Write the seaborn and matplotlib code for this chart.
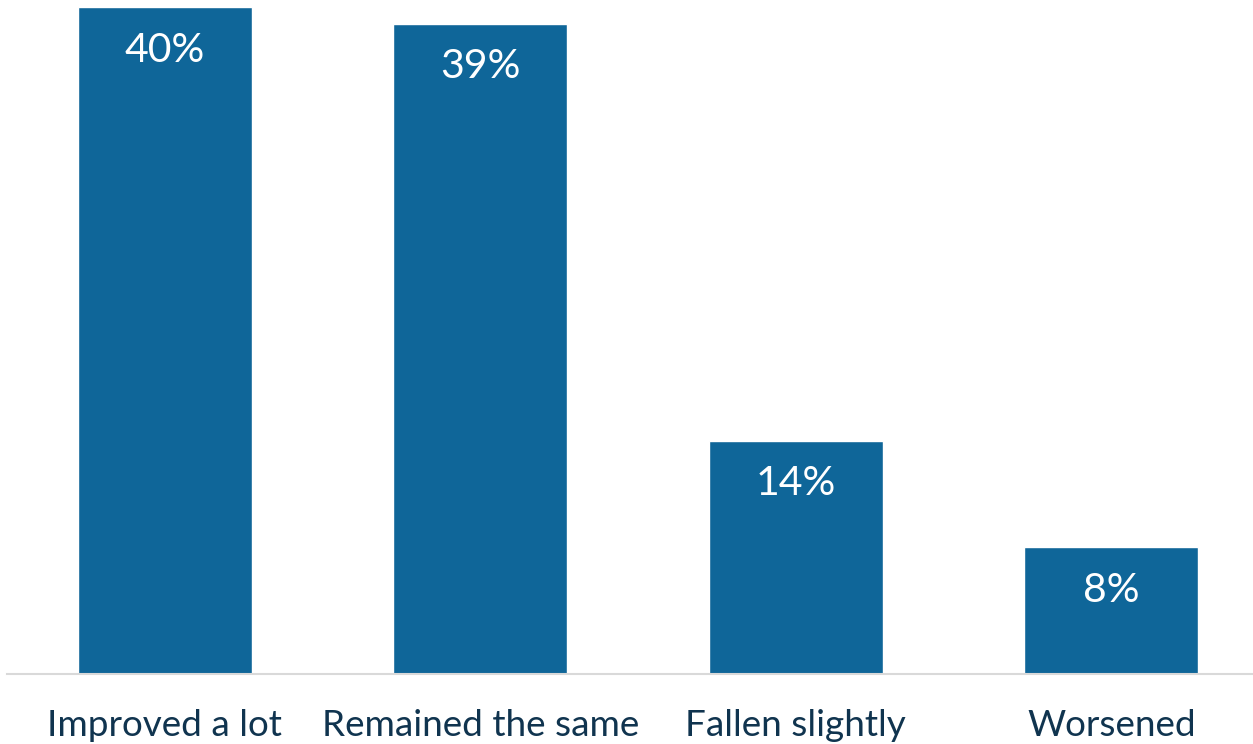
import matplotlib
matplotlib.use("Agg")
import matplotlib.pyplot as plt
import pandas as pd
import seaborn as sns

# values (percent)
categories = ["Improved a lot", "Remained the same", "Fallen slightly", "Worsened"]
shares = [40, 39, 14, 7.6]

BAR_COLOR = "#0f6699"
TEXT_COLOR = "#10344f"

sns.set_theme(style="white")
plt.rcParams["font.family"] = ["Lato", "DejaVu Sans"]

df = pd.DataFrame({"category": categories, "share": shares})

fig = plt.figure(figsize=(12.53, 7.44), dpi=100)
ax = fig.add_axes([7 / 1253, 70 / 744, 1246 / 1253, 674 / 744])

sns.barplot(data=df, x="category", y="share", color=BAR_COLOR, saturation=1,
            width=0.55, ax=ax)

ax.set_xlim(-0.5, -0.5 + 1246 / 315.5)
ax.set_ylim(0, 674 / 667 * 40)

for patch, v in zip(ax.patches, shares):
    x = patch.get_x() + patch.get_width() / 2
    ax.annotate("{:.0f}%".format(v), (x, patch.get_height()), xytext=(0, -43),
                textcoords="offset pixels", ha="center", va="center",
                color="white", fontsize=29.5)

ax.set_xlabel("")
ax.set_ylabel("")
ax.set_yticks([])
ax.tick_params(axis="x", length=0, pad=25.5, labelsize=26.6, labelcolor=TEXT_COLOR)
for side in ["top", "right", "left"]:
    ax.spines[side].set_visible(False)
ax.spines["bottom"].set_color("#d9d9d9")
ax.spines["bottom"].set_linewidth(1.5)

fig.savefig("out.png", dpi=100)
